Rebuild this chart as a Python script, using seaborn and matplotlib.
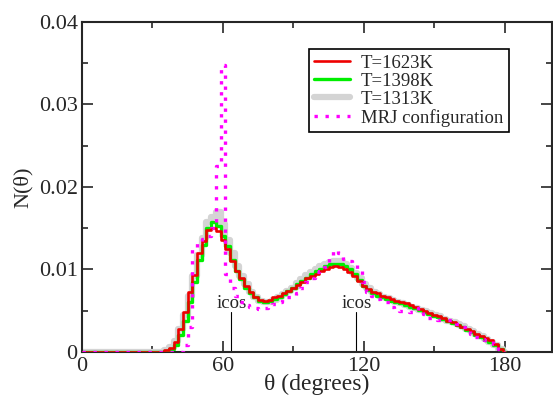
import numpy as np
import matplotlib
matplotlib.use('Agg')
import matplotlib.pyplot as plt
from matplotlib.ticker import MultipleLocator
import seaborn as sns

# bin centres (degrees), 2 degree bins
theta = np.arange(0, 182, 2)

# N(theta), one row per 20 degrees
n_1623 = [0, 0, 0, 0, 0, 0, 0, 0, 0, 0,
          0, 0, 0, 0, 0, 0, 0, 0, 0.0002, 0.0005,
          0.0012, 0.0028, 0.0048, 0.0073, 0.0093, 0.0120, 0.0135, 0.0148, 0.0150, 0.0146,
          0.0136, 0.0125, 0.0110, 0.0098, 0.0090, 0.0080, 0.0073, 0.0067, 0.0063, 0.0062,
          0.0063, 0.0066, 0.0068, 0.0071, 0.0074, 0.0077, 0.0081, 0.0085, 0.0089, 0.0092,
          0.0095, 0.0098, 0.0101, 0.0103, 0.0104, 0.0103, 0.0101, 0.0097, 0.0092, 0.0086,
          0.0080, 0.0076, 0.0073, 0.0071, 0.0068, 0.0066, 0.0064, 0.0062, 0.0061, 0.0059,
          0.0057, 0.0054, 0.0052, 0.0050, 0.0047, 0.0045, 0.0043, 0.0041, 0.0038, 0.0036,
          0.0033, 0.0030, 0.0028, 0.0025, 0.0022, 0.0019, 0.0017, 0.0015, 0.0010, 0.0004,
          0]

n_1398 = [0, 0, 0, 0, 0, 0, 0, 0, 0, 0,
          0, 0, 0, 0, 0, 0, 0, 0, 0.0001, 0.0003,
          0.0008, 0.0020, 0.0038, 0.0060, 0.0085, 0.0112, 0.0130, 0.0150, 0.0157, 0.0153,
          0.0140, 0.0128, 0.0112, 0.0098, 0.0088, 0.0078, 0.0071, 0.0066, 0.0062, 0.0061,
          0.0062, 0.0064, 0.0067, 0.0070, 0.0074, 0.0078, 0.0082, 0.0086, 0.0090, 0.0094,
          0.0098, 0.0101, 0.0104, 0.0106, 0.0107, 0.0107, 0.0104, 0.0100, 0.0094, 0.0087,
          0.0080, 0.0075, 0.0071, 0.0068, 0.0066, 0.0064, 0.0062, 0.0060, 0.0059, 0.0057,
          0.0055, 0.0053, 0.0051, 0.0048, 0.0046, 0.0044, 0.0042, 0.0040, 0.0038, 0.0035,
          0.0033, 0.0030, 0.0027, 0.0024, 0.0021, 0.0018, 0.0015, 0.0012, 0.0008, 0.0003,
          0]

n_1313 = [0, 0, 0, 0, 0, 0, 0, 0, 0, 0,
          0, 0, 0, 0, 0, 0, 0, 0, 0.0002, 0.0006,
          0.0013, 0.0028, 0.0045, 0.0068, 0.0092, 0.0118, 0.0138, 0.0158, 0.0164, 0.0170,
          0.0155, 0.0136, 0.0120, 0.0104, 0.0092, 0.0082, 0.0073, 0.0066, 0.0062, 0.0060,
          0.0061, 0.0063, 0.0066, 0.0070, 0.0074, 0.0078, 0.0083, 0.0088, 0.0093, 0.0097,
          0.0101, 0.0104, 0.0107, 0.0109, 0.0110, 0.0110, 0.0107, 0.0102, 0.0096, 0.0089,
          0.0082, 0.0077, 0.0073, 0.0070, 0.0067, 0.0065, 0.0063, 0.0061, 0.0059, 0.0057,
          0.0055, 0.0053, 0.0051, 0.0049, 0.0047, 0.0045, 0.0043, 0.0040, 0.0038, 0.0036,
          0.0034, 0.0031, 0.0028, 0.0025, 0.0022, 0.0019, 0.0016, 0.0012, 0.0008, 0.0003,
          0]

n_mrj = [0, 0, 0, 0, 0, 0, 0, 0, 0, 0,
         0, 0, 0, 0, 0, 0, 0, 0, 0, 0,
         0, 0, 0.0008, 0.0030, 0.0125, 0.0133, 0.0137, 0.0140, 0.0150, 0.0225,
         0.0348, 0.0095, 0.0078, 0.0068, 0.0061, 0.0057, 0.0055, 0.0053, 0.0052, 0.0053,
         0.0055, 0.0058, 0.0061, 0.0064, 0.0066, 0.0068, 0.0072, 0.0078, 0.0085, 0.0090,
         0.0097, 0.0098, 0.0103, 0.0115, 0.0124, 0.0120, 0.0113, 0.0110, 0.0106, 0.0099,
         0.0085, 0.0073, 0.0068, 0.0064, 0.0062, 0.0060, 0.0055, 0.0051, 0.0050, 0.0049,
         0.0048, 0.0050, 0.0053, 0.0046, 0.0041, 0.0040, 0.0039, 0.0039, 0.0039, 0.0039,
         0.0034, 0.0030, 0.0027, 0.0022, 0.0018, 0.0016, 0.0015, 0.0014, 0.0009, 0.0003,
         0]

# icosahedral bond angles
icos_angles = [63.43, 116.57]

sns.set_style('ticks')
plt.rcParams['font.family'] = ['Liberation Serif', 'DejaVu Serif']

fig = plt.figure(figsize=(5.53, 3.99), dpi=100)
ax = fig.add_axes([0.148, 0.118, 0.850, 0.827])

# gray underneath, then green, red and the dotted MRJ curve on top
sns.lineplot(x=theta, y=n_1313, ax=ax, color='#d4d4d4', lw=4.5, drawstyle='steps-mid',
             label='T=1313K', zorder=2)
sns.lineplot(x=theta, y=n_1398, ax=ax, color='#00ee00', lw=2.4, drawstyle='steps-mid',
             label='T=1398K', zorder=3)
sns.lineplot(x=theta, y=n_1623, ax=ax, color='#ee0000', lw=1.9, drawstyle='steps-mid',
             label='T=1623K', zorder=4)
sns.lineplot(x=theta, y=n_mrj, ax=ax, color='#ff00ff', lw=2.4, drawstyle='steps-mid',
             linestyle=(0, (1, 2.3)), label='MRJ configuration', zorder=5)

for a in icos_angles:
    ax.plot([a, a], [0, 0.0048], color='black', lw=0.8, zorder=1)
    ax.text(a + 0.5, 0.0059, 'icos', ha='center', va='center', fontsize=13.5)

ax.set_xlim(0, 200)
ax.set_ylim(0, 0.04)
ax.xaxis.set_major_locator(MultipleLocator(60))
ax.xaxis.set_minor_locator(MultipleLocator(30))
ax.yaxis.set_major_locator(MultipleLocator(0.01))
ax.yaxis.set_minor_locator(MultipleLocator(0.005))
ax.set_yticks([0, 0.01, 0.02, 0.03, 0.04])
ax.set_yticklabels(['0', '0.01', '0.02', '0.03', '0.04'])
ax.tick_params(which='both', direction='in', top=True, right=True, width=1.2, labelsize=16)
ax.tick_params(which='major', length=8)
ax.tick_params(which='minor', length=4)
ax.tick_params(axis='y', pad=3)
ax.tick_params(axis='x', pad=4)
for s in ax.spines.values():
    s.set_linewidth(1.5)

ax.set_xlabel('θ (degrees)', fontsize=17, labelpad=-2)
ax.set_ylabel('N(θ)', fontsize=16, labelpad=4)

handles, labels = ax.get_legend_handles_labels()
order = [2, 1, 0, 3]
leg = ax.legend([handles[i] for i in order], [labels[i] for i in order],
                loc='upper right', bbox_to_anchor=(0.909, 0.918), fontsize=13.5,
                frameon=True, fancybox=False, edgecolor='black', framealpha=1,
                labelspacing=0.05, handlelength=1.9, handletextpad=0.6,
                borderpad=0.3, borderaxespad=0)
leg.get_frame().set_linewidth(1.2)

plt.savefig('out.png', dpi=100)
